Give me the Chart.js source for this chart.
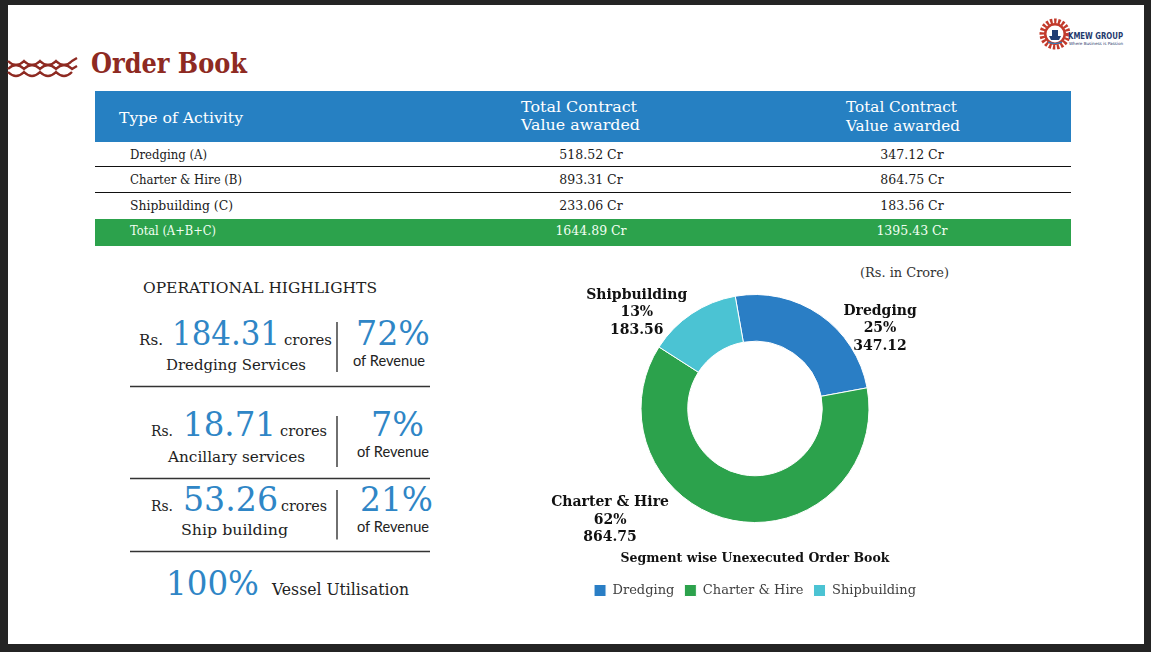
<!DOCTYPE html>
<html><head><meta charset="utf-8">
<script src="https://cdn.jsdelivr.net/npm/chart.js@4.4.0/dist/chart.umd.min.js"></script>
<style>
html,body{margin:0;padding:0;background:#242424;width:1151px;height:652px;overflow:hidden;}
#slide{position:absolute;left:8px;top:5px;width:1136px;height:639px;background:#fff;}
#svg{position:absolute;left:0;top:0;}
#chartBox{position:absolute;left:545px;top:262px;width:420px;height:350px;}
</style></head>
<body>
<div id="slide"></div>
<svg id="svg" width="1151" height="652" xmlns="http://www.w3.org/2000/svg"></svg>
<div id="chartBox"><canvas id="c"></canvas></div>
<script>
// ---------- data ----------
const tableHeaders = ['Type of Activity', 'Total Contract', 'Value awarded'];
const activities = ['Dredging (A)', 'Charter & Hire (B)', 'Shipbuilding (C)'];
const totalLabel = 'Total (A+B+C)';
const awardedValues = [518.52, 893.31, 233.06];
const unexecutedValues = [347.12, 864.75, 183.56];
const awardedTotal = 1644.89;
const unexecutedTotal = 1395.43;

const segments = ['Dredging', 'Charter & Hire', 'Shipbuilding'];
const segmentValues = [347.12, 864.75, 183.56];

const highlightAmounts = ['184.31', '18.71', '53.26'];
const highlightNames = ['Dredging Services', 'Ancillary services', 'Ship building'];
const highlightShares = ['72%', '7%', '21%'];
const vesselUtilisation = '100%';

// ---------- static slide (SVG) ----------
const NS = 'http://www.w3.org/2000/svg';
const svg = document.getElementById('svg');
function el(tag, attrs, text) {
  const e = document.createElementNS(NS, tag);
  for (const k in attrs) e.setAttribute(k, attrs[k]);
  if (text !== undefined) e.textContent = text;
  svg.appendChild(e);
  return e;
}
function txt(x, y, s, size, o = {}) {
  const a = {x, y, 'font-size': size, 'font-family': o.family || 'DejaVu Serif', fill: o.fill || '#1a1a1a'};
  if (o.weight) a['font-weight'] = o.weight;
  if (o.anchor) a['text-anchor'] = o.anchor;
  if (o.len) { a.textLength = o.len; a.lengthAdjust = 'spacingAndGlyphs'; }
  return el('text', a, s);
}
const RED = '#8E2A22', HBLUE = '#2680C2', GREEN = '#2CA24C', NUMBLUE = '#2F86C6';

// decoration
const waves = [
  'M8,61 Q16,69 24,61 Q32,69 40,61 Q48,69 56,61 Q64,69 72,61 L77,58',
  'M8,69 Q16,61 24,69 Q32,61 40,69 Q48,61 56,69 Q64,61 72,69 L77,66',
  'M8,72 Q16,80 24,72 Q32,80 40,72 Q48,80 56,72 Q64,80 72,72'
];
waves.forEach(d => el('path', {d, fill: 'none', stroke: RED, 'stroke-width': 2.3}));
txt(91, 73, 'Order Book', 27, {weight: 'bold', fill: RED, len: 156});

// logo
const g = el('g', {transform: 'translate(1055,34)'});
function gel(tag, attrs) { const e = document.createElementNS(NS, tag); for (const k in attrs) e.setAttribute(k, attrs[k]); g.appendChild(e); return e; }
gel('circle', {r: 13, fill: 'none', stroke: '#C23A2B', 'stroke-width': 5, 'stroke-dasharray': '2.4 1.6'});
gel('circle', {r: 11, fill: '#C23A2B'});
gel('circle', {r: 8.5, fill: '#fff'});
gel('path', {d: 'M-6,2 L6,2 L4,6 L-4,6 Z', fill: '#1F3C73'});
gel('rect', {x: -3, y: -4, width: 6, height: 6, fill: '#1F3C73'});
gel('path', {d: 'M-7,8 Q0,11 7,8', fill: 'none', stroke: '#2680C2', 'stroke-width': 1.2});
txt(1068, 39, 'KMEW GROUP', 8.5, {family: 'DejaVu Sans', weight: 'bold', fill: '#1F3A6E', len: 55});
txt(1069, 44.5, 'Where Business is Passion', 4.2, {family: 'DejaVu Sans', fill: '#1F3A6E', len: 54});

// table
el('rect', {x: 95, y: 91, width: 976, height: 51, fill: HBLUE});
txt(119, 123, tableHeaders[0], 15, {fill: '#fff', len: 124});
txt(521, 112, tableHeaders[1], 15, {fill: '#fff', len: 116});
txt(521, 130, tableHeaders[2], 15, {fill: '#fff', len: 119});
txt(846, 112, tableHeaders[1], 15, {fill: '#fff', len: 111});
txt(846, 131, tableHeaders[2], 15, {fill: '#fff', len: 114});
const rowBase = [159, 184, 209.5];
const rowLens = [77, 112, 103];
activities.forEach((a, i) => {
  txt(130, rowBase[i], a, 12.5, {len: rowLens[i]});
  txt(591, rowBase[i], awardedValues[i].toFixed(2) + ' Cr', 12.5, {anchor: 'middle'});
  txt(912, rowBase[i], unexecutedValues[i].toFixed(2) + ' Cr', 12.5, {anchor: 'middle'});
});
[166.5, 192.5].forEach(y => el('line', {x1: 95, x2: 1071, y1: y, y2: y, stroke: '#111', 'stroke-width': 1.2}));
el('rect', {x: 95, y: 219, width: 976, height: 27, fill: GREEN});
txt(130, 235, totalLabel, 12.5, {fill: '#f2fff2', len: 86});
txt(591, 235, awardedTotal.toFixed(2) + ' Cr', 12.5, {anchor: 'middle', fill: '#f2fff2'});
txt(912, 235, unexecutedTotal.toFixed(2) + ' Cr', 12.5, {anchor: 'middle', fill: '#f2fff2'});

// operational highlights
txt(143, 293, 'OPERATIONAL HIGHLIGHTS', 15, {fill: '#222', len: 234});
const hl = [
  {rsX: 139, rsW: 24, numX: 172, numW: 108, crX: 284, crW: 48, base: 344.5, pctX: 356, pctW: 74, revX: 353, revBase: 366, nameX: 166, nameW: 140, nameBase: 370, vTop: 322, vBot: 372},
  {rsX: 151, rsW: 22, numX: 183, numW: 93, crX: 280, crW: 47, base: 436, pctX: 371, pctW: 53, revX: 357, revBase: 457, nameX: 168, nameW: 137, nameBase: 461.5, vTop: 416, vBot: 467},
  {rsX: 151, rsW: 22, numX: 183, numW: 95, crX: 281, crW: 46, base: 510.5, pctX: 360, pctW: 73, revX: 357, revBase: 531.5, nameX: 181, nameW: 107, nameBase: 535, vTop: 490, vBot: 539.5}
];
hl.forEach((h, i) => {
  txt(h.rsX, h.base, 'Rs.', 15, {fill: '#222', len: h.rsW});
  txt(h.numX, h.base, highlightAmounts[i], 33, {fill: NUMBLUE, len: h.numW});
  txt(h.crX, h.base, 'crores', 15, {fill: '#222', len: h.crW});
  el('line', {x1: 337, x2: 337, y1: h.vTop, y2: h.vBot, stroke: '#222', 'stroke-width': 1.3});
  txt(h.pctX, h.base, highlightShares[i], 33, {fill: NUMBLUE, len: h.pctW});
  txt(h.revX, h.revBase, 'of Revenue', 14.5, {family: 'Lato', fill: '#222', len: 72});
  txt(h.nameX, h.nameBase, highlightNames[i], 15, {fill: '#222', len: h.nameW});
});
[386.5, 478.5, 551.5].forEach(y => el('line', {x1: 130, x2: 430, y1: y, y2: y, stroke: '#333', 'stroke-width': 1.4}));
txt(166, 595, vesselUtilisation, 33, {fill: NUMBLUE, len: 93});
txt(272, 595, 'Vessel Utilisation', 16, {fill: '#222', len: 137});

txt(860, 277, '(Rs. in Crore)', 13, {fill: '#333', len: 89});

// ---------- doughnut chart ----------
const segColors = ['#2A7EC5', '#2CA24C', '#4BC3D3'];
const labelOffsets = [[60, 0], [-123, -14], [-55, -15]];
const segTotal = segmentValues.reduce((a, b) => a + b, 0);
const labelPlugin = {
  id: 'segLabels',
  afterDatasetsDraw(chart) {
    const ctx = chart.ctx;
    const meta = chart.getDatasetMeta(0);
    ctx.save();
    ctx.font = 'bold 14px "DejaVu Serif"';
    ctx.fillStyle = '#111';
    ctx.textAlign = 'center';
    ctx.textBaseline = 'alphabetic';
    meta.data.forEach((arc, i) => {
      const p = arc.getProps(['x', 'y', 'startAngle', 'endAngle', 'outerRadius'], true);
      const mid = (p.startAngle + p.endAngle) / 2;
      const ax = p.x + Math.cos(mid) * p.outerRadius + labelOffsets[i][0];
      const ay = p.y + Math.sin(mid) * p.outerRadius + labelOffsets[i][1];
      const pct = Math.round(segmentValues[i] / segTotal * 100) + '%';
      [segments[i], pct, segmentValues[i].toFixed(2)].forEach((s, j) => ctx.fillText(s, ax, ay + j * 17.5));
    });
    ctx.restore();
  }
};
new Chart(document.getElementById('c'), {
  type: 'doughnut',
  data: {
    labels: segments,
    datasets: [{
      data: segmentValues,
      backgroundColor: segColors,
      borderColor: '#ffffff',
      borderWidth: 1,
      hoverBorderWidth: 1,
      hoverOffset: 0
    }]
  },
  options: {
    responsive: true,
    maintainAspectRatio: false,
    animation: false,
    cutout: '59%',
    rotation: -10,
    layout: {padding: {top: 32, bottom: 5, left: 0, right: 0}},
    plugins: {
      tooltip: {enabled: false},
      title: {
        display: true, position: 'bottom', weight: 500,
        text: 'Segment wise Unexecuted Order Book',
        color: '#111',
        font: {family: 'DejaVu Serif', size: 12.5, weight: 'bold'},
        padding: {top: 28, bottom: 8}
      },
      legend: {
        display: true, position: 'bottom',
        labels: {boxWidth: 12, boxHeight: 12, padding: 10, color: '#404040', font: {family: 'DejaVu Serif', size: 13}}
      }
    }
  },
  plugins: [labelPlugin]
});
</script>
</body></html>
